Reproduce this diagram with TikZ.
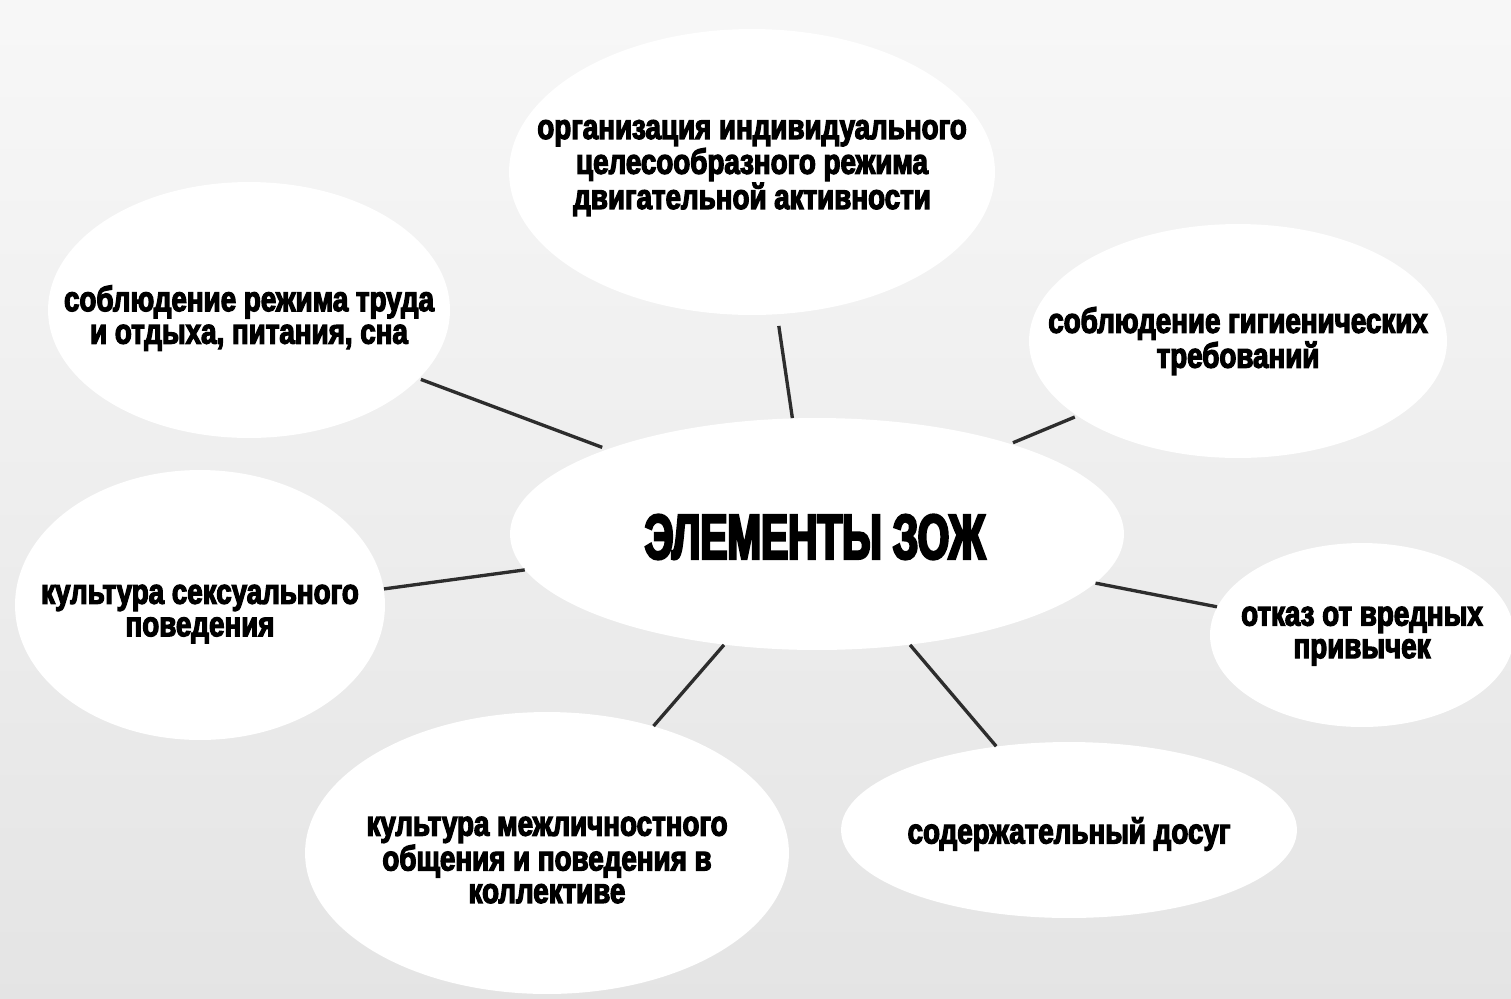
\documentclass[tikz,border=0pt]{standalone}
\usepackage{fontspec}
\usetikzlibrary{shapes.geometric}
\setmainfont{Liberation Sans}
\newfontfamily\lblfont{Liberation Sans}[FakeStretch=0.79,FakeBold=3.5]
\newfontfamily\titlefont{Liberation Sans}[FakeStretch=0.64,FakeBold=4]
\definecolor{linkgray}{HTML}{2D2D2D}
\tikzset{
	bubble/.style={ellipse, fill=white, inner sep=0pt},
	lbl/.style={align=center, font=\lblfont\bfseries\fontsize{20}{18.5}\selectfont},
	link/.style={draw=linkgray, line width=1.9pt}
}
\begin{document}
\begin{tikzpicture}[x=0.02cm, y=-0.02cm]
		% background
		\shade[top color=gray!6, bottom color=gray!21] (0,0) rectangle (1511,998);
		\useasboundingbox (0,0) rectangle (1511,998);
		% bubbles
		\node[bubble, minimum width=12.28cm, minimum height=4.64cm] (cen) at (817,534) {};
		\node[bubble, minimum width=9.72cm, minimum height=5.72cm] (org) at (752,172) {};
		\node[bubble, minimum width=8.04cm, minimum height=5.12cm] (trud) at (249,310) {};
		\node[bubble, minimum width=8.36cm, minimum height=4.68cm] (gig) at (1238,341) {};
		\node[bubble, minimum width=7.4cm, minimum height=5.4cm] (sex) at (200,605) {};
		\node[bubble, minimum width=6.08cm, minimum height=3.68cm] (otkaz) at (1362,635) {};
		\node[bubble, minimum width=9.68cm, minimum height=5.64cm] (obsh) at (547,853) {};
		\node[bubble, minimum width=9.12cm, minimum height=3.52cm] (dosug) at (1069,830) {};
		% labels
		\node[font=\titlefont\bfseries\fontsize{36}{40}\selectfont] (cen-t) at (815,537) {ЭЛЕМЕНТЫ ЗОЖ};
		\node[lbl] (org-t) at (752,168) {организация индивидуального\\целесообразного режима\\двигательной активности};
		\node[lbl] (trud-t) at (249,318) {соблюдение режима труда\\и отдыха, питания, сна};
		\node[lbl] (gig-t) at (1238,341) {соблюдение гигиенических\\требований};
		\node[lbl] (sex-t) at (200,614) {культура сексуального\\поведения};
		\node[lbl] (otkaz-t) at (1362,636) {отказ от вредных\\привычек};
		\node[lbl] (obsh-t) at (547,860) {культура межличностного\\общения и поведения в\\коллективе};
		\node[lbl] (dosug-t) at (1069,834) {содержательный досуг};
		% links
		\draw[link, shorten <=0.23cm] (org.-80) -- (cen.102);
		\draw[link, shorten <=0.04cm, shorten >=0.1cm] (trud.-22) -- (cen.158);
		\draw[link, shorten <=0.05cm, shorten >=0.05cm] (gig.205) -- (cen.25);
		\draw[link] (sex.5) -- (cen.187);
		\draw[link] (otkaz.169) -- (cen.-10);
		\draw[link] (obsh.50) -- (cen.230);
		\draw[link] (dosug.131) -- (cen.-50);
	\end{tikzpicture}
\end{document}
